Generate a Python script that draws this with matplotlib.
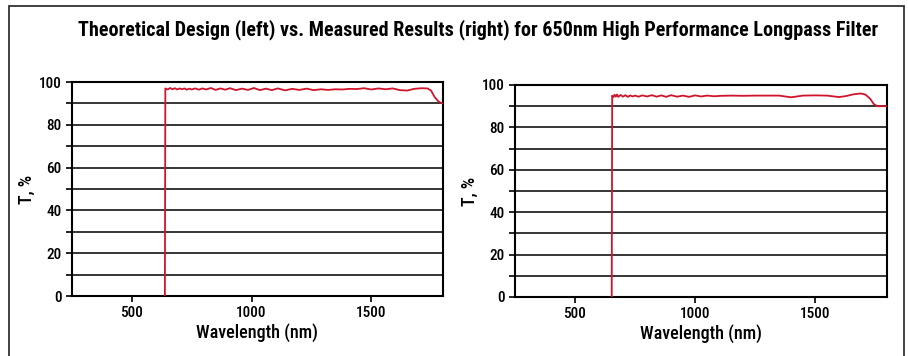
import matplotlib
matplotlib.use('Agg')
import matplotlib.pyplot as plt
from matplotlib.patches import Rectangle
from matplotlib import font_manager

# 找一个窄体字体（有则用之）
names = {f.name for f in font_manager.fontManager.ttflist}
narrow = [n for n in ['Liberation Sans Narrow', 'DejaVu Sans Condensed', 'Roboto Condensed']
          if n in names]
plt.rcParams['font.family'] = narrow + ['DejaVu Sans']

# 数据：理论设计（左）
wl_design = [638, 640, 650, 660, 670, 680, 690, 700, 710, 720, 730, 740, 750,
             765, 780, 795, 810, 830, 850, 870, 890, 910, 935, 960, 985, 1010, 1035,
             1060, 1085, 1110, 1140, 1170, 1200, 1230, 1260, 1290, 1320, 1350, 1380,
             1410, 1440, 1470, 1500, 1530, 1560, 1590, 1620, 1650, 1680, 1710, 1735,
             1750, 1765, 1780, 1790, 1800]
T_design = [0, 97, 96.5, 97.2, 96.6, 97.1, 96.5, 97, 96.6, 97, 96.4, 96.9, 96.5,
            97, 96.4, 97, 96.5, 97.2, 96.3, 97, 96.4, 97.1, 96.2, 96.9, 96.3, 97.2, 96.2,
            96.9, 96.2, 97, 96.1, 96.8, 96.3, 96.9, 96.2, 96.6, 96.3, 96.6, 96.5,
            96.8, 96.7, 97.1, 96.5, 97, 96.6, 97, 96.2, 96.0, 96.8, 97.1, 97,
            96, 93, 91, 90.3, 90]

# 数据：实测结果（右）
wl_measured = [653, 655, 660, 665, 670, 675, 680, 690, 700, 710, 720, 730, 740,
               750, 765, 780, 800, 820, 840, 860, 880, 900, 925, 950, 975, 1000, 1025,
               1050, 1080, 1110, 1150, 1200, 1250, 1300, 1350, 1400, 1450, 1500, 1550,
               1600, 1630, 1660, 1690, 1710, 1730, 1745, 1760, 1780, 1800]
T_measured = [0, 95, 94.3, 95.4, 94.5, 95.5, 94.4, 95.3, 94.5, 95.2, 94.4, 95.1, 94.6,
              95, 94.5, 95.1, 94.6, 95.2, 94.5, 95.1, 94.4, 95.2, 94.5, 95, 94.4, 95.1, 94.6,
              95, 94.7, 94.9, 95, 94.9, 95, 95, 95, 94.2, 95, 95.1, 95,
              94.3, 94.8, 95.6, 96, 95.5, 93.5, 91, 90, 90, 90]

title = 'Theoretical Design (left) vs. Measured Results (right) for 650nm High Performance Longpass Filter'

fig = plt.figure(figsize=(9.08, 3.56), dpi=100)
W, H = 908, 356

# 外框
fig.patches.append(Rectangle((8.5 / W, -0.05), (904 - 8.5) / W, 1.05 - 5.5 / H,
                             transform=fig.transFigure, fill=False,
                             edgecolor='#333333', linewidth=1.3))

t = fig.text(478 / W, 1 - 30 / H, title, ha='center', va='center',
             fontsize=16, fontweight='bold')
# 标题宽度缩放到约 800 px
r = fig.canvas.get_renderer()
w = t.get_window_extent(r).width
t.set_fontsize(16 * min(1.0, 800 / w))

panels = [
    (wl_design, T_design, (72, 443, 82, 296)),
    (wl_measured, T_measured, (515, 887, 85, 297)),
]
for wl, T, (x0, x1, ytop, ybot) in panels:
    ax = fig.add_axes([x0 / W, 1 - ybot / H, (x1 - x0) / W, (ybot - ytop) / H])
    for y in range(10, 100, 10):
        ax.axhline(y, color='black', linewidth=1.1, zorder=1)
    ax.plot(wl, T, color='#d0142c', linewidth=1.3, zorder=3)
    ax.set_xlim(250, 1800)
    ax.set_ylim(0, 100)
    ax.set_xticks([500, 1000, 1500])
    ax.set_yticks(range(0, 101, 20))
    ax.set_yticks(range(10, 100, 20), minor=True)
    for s in ax.spines.values():
        s.set_linewidth(1.5)
    ax.tick_params(axis='both', which='both', direction='out', length=4, width=1.2,
                   labelsize=11)
    for lab in ax.get_xticklabels() + ax.get_yticklabels():
        lab.set_fontweight('medium')
    ax.set_xlabel('Wavelength (nm)', fontsize=13, labelpad=2, fontweight='medium')
    ax.set_ylabel('T, %', fontsize=13, labelpad=2, fontweight='medium')

fig.savefig('out.png', dpi=100)
